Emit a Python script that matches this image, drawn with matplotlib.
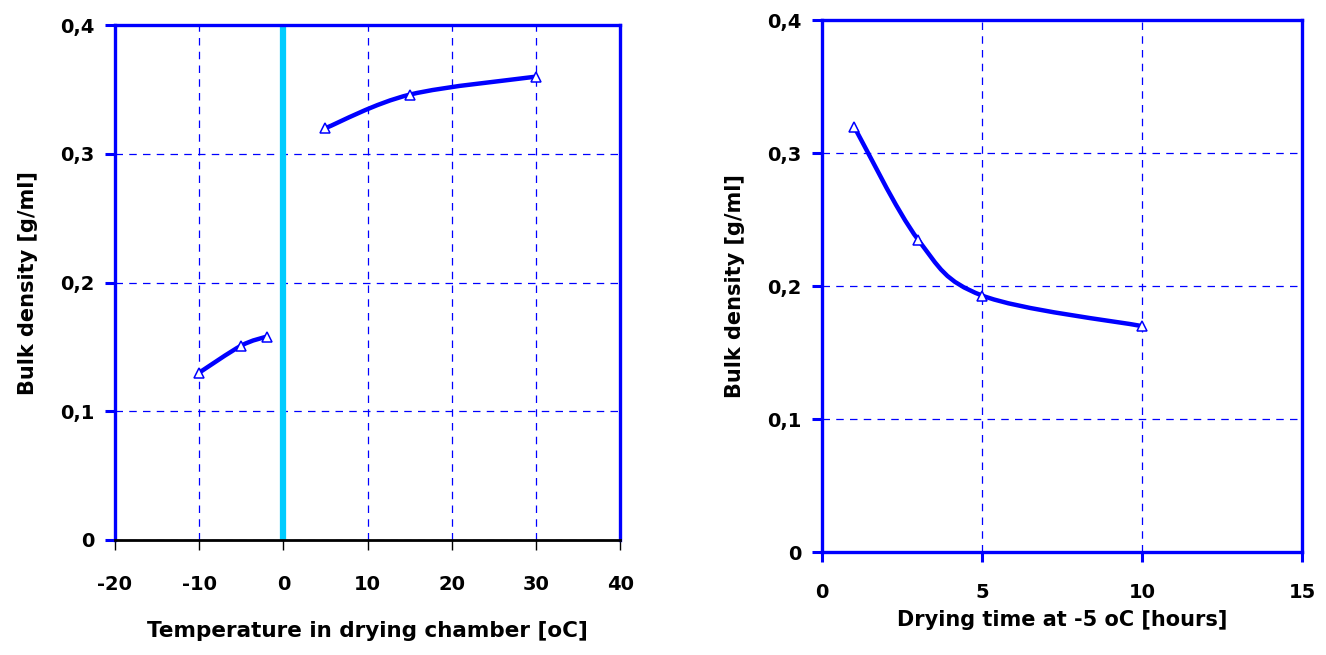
import matplotlib.pyplot as plt
import numpy as np
from matplotlib.path import Path
from matplotlib.patches import PathPatch
from matplotlib.ticker import FuncFormatter

# bulk density vs chamber temperature (two branches, below and above 0 oC)
temp_frozen = [-10, -5, -2]
dens_frozen = [0.130, 0.151, 0.158]
temp_thawed = [5, 15, 30]
dens_thawed = [0.320, 0.346, 0.360]

# bulk density vs drying time at -5 oC
drying_hours = [1, 3, 5, 10]
dens_drying = [0.320, 0.235, 0.193, 0.170]

BLUE = "#0000FF"
CYAN = "#00CCFF"

plt.rcParams["font.family"] = ["DejaVu Sans"]
plt.rcParams["font.weight"] = "bold"
plt.rcParams["axes.labelweight"] = "bold"
plt.rcParams["axes.unicode_minus"] = False


def smooth_path(xs, ys, tension=1 / 6):
    """Cubic Bezier through the points, like a spreadsheet 'smoothed line'."""
    pts = np.column_stack([xs, ys]).astype(float)
    verts = [pts[0]]
    codes = [Path.MOVETO]
    n = len(pts)
    for i in range(n - 1):
        p0 = pts[i - 1] if i > 0 else pts[i]
        p1, p2 = pts[i], pts[i + 1]
        p3 = pts[i + 2] if i + 2 < n else pts[i + 1]
        c1 = p1 + (p2 - p0) * tension
        c2 = p2 - (p3 - p1) * tension
        verts += [c1, c2, p2]
        codes += [Path.CURVE4] * 3
    return Path(verts, codes)


def draw_series(ax, xs, ys):
    ax.add_patch(PathPatch(smooth_path(xs, ys), fill=False, edgecolor=BLUE,
                           lw=3.2, capstyle="round", zorder=3))
    ax.plot(xs, ys, ls="none", marker="^", ms=7, mfc="white", mec=BLUE,
            mew=1.1, zorder=4)


comma = FuncFormatter(lambda v, _: "0" if abs(v) < 1e-9 else f"{v:.1f}".replace(".", ","))
dash = (0, (6, 5))

fig = plt.figure(figsize=(13.26, 6.55), dpi=100)
ax1 = fig.add_axes([0.0867, 0.1756, 0.381, 0.786])
ax2 = fig.add_axes([0.620, 0.157, 0.362, 0.812])

# left panel
ax1.set_xlim(-20, 40)
ax1.set_ylim(0, 0.4)
ax1.set_xticks(np.arange(-20, 41, 10))
ax1.set_yticks(np.arange(0, 0.41, 0.1))
ax1.yaxis.set_major_formatter(comma)
ax1.grid(True, color=BLUE, ls=dash, lw=0.9)
ax1.axvline(0, color=CYAN, lw=4.5, zorder=2)
draw_series(ax1, temp_frozen, dens_frozen)
draw_series(ax1, temp_thawed, dens_thawed)
for side in ["left", "top", "right"]:
    ax1.spines[side].set_color(BLUE)
    ax1.spines[side].set_linewidth(2.4)
ax1.spines["bottom"].set_color("black")
ax1.spines["bottom"].set_linewidth(2.0)
ax1.tick_params(axis="x", colors="black", length=7, width=1, pad=18, labelsize=14)
ax1.tick_params(axis="y", color=BLUE, length=7, width=2.2, pad=8, labelsize=14)
ax1.tick_params(axis="y", labelcolor="black")
ax1.set_xlabel("Temperature in drying chamber [oC]", fontsize=15.5, labelpad=20)
ax1.set_ylabel("Bulk density [g/ml]", fontsize=15, labelpad=16)

# right panel
ax2.set_xlim(0, 15)
ax2.set_ylim(0, 0.4)
ax2.set_xticks(np.arange(0, 16, 5))
ax2.set_yticks(np.arange(0, 0.41, 0.1))
ax2.yaxis.set_major_formatter(comma)
ax2.grid(True, color=BLUE, ls=dash, lw=0.9)
draw_series(ax2, drying_hours, dens_drying)
for side in ["left", "top", "right", "bottom"]:
    ax2.spines[side].set_color(BLUE)
    ax2.spines[side].set_linewidth(2.4)
ax2.tick_params(axis="both", color=BLUE, length=7, width=2.2, labelsize=14)
ax2.tick_params(axis="x", pad=15)
ax2.tick_params(axis="y", pad=8)
ax2.set_xlabel("Drying time at -5 oC [hours]", fontsize=15, labelpad=6)
ax2.set_ylabel("Bulk density [g/ml]", fontsize=15, labelpad=16)

fig.savefig("out.png", dpi=100)
